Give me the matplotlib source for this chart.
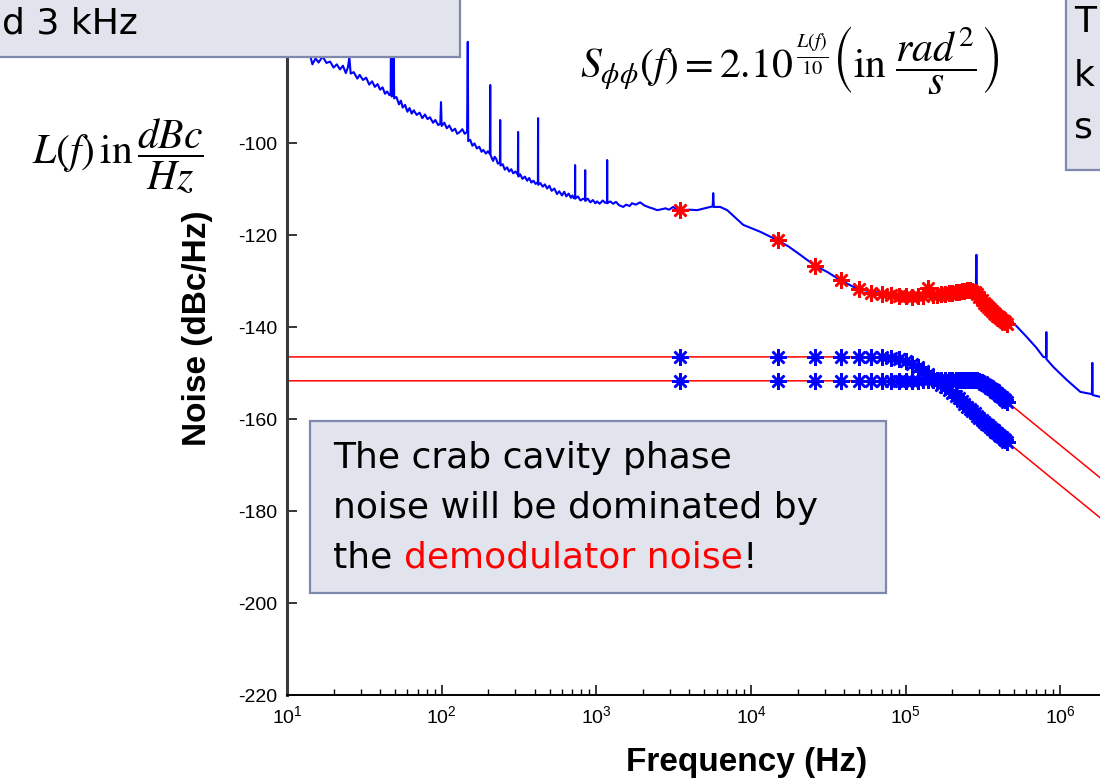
import numpy as np
import matplotlib
matplotlib.use("Agg")
import matplotlib.pyplot as plt
from matplotlib.patches import Rectangle
from matplotlib.ticker import FixedLocator, LogLocator, NullFormatter

plt.rcParams['mathtext.fontset'] = 'stix'
plt.rcParams['axes.unicode_minus'] = False

# ---------------- data ----------------
# measured phase noise (blue trace), including line spikes
meas_f = [12, 14, 14.6, 15.3, 16, 17, 18, 19, 20, 21,
          22, 23, 24, 24.8, 25.3, 25.8, 27, 28.5, 29.5, 31,
          32.5, 34, 35.5, 37, 38.5, 40, 41.5, 43, 44.4, 46,
          46.8, 47.1, 47.5, 48.3, 48.8, 49.3, 51, 53, 54.5, 56,
          58, 60, 62, 64, 66, 69, 72, 75, 78, 81,
          84, 88, 91, 95, 98, 99, 100, 104, 108, 112,
          117, 122, 126, 131, 136, 141, 146, 147.5, 148.5, 153,
          158, 163, 169, 175, 181, 186, 193, 199, 205, 206,
          207, 211, 215, 220, 225, 231, 238, 239, 240, 248,
          256, 265, 273, 282, 290, 300, 311, 312, 313, 322,
          333, 345, 357, 368, 380, 392, 405, 419, 420, 421,
          435, 450, 465, 481, 497, 514, 535, 557, 575, 600,
          620, 640, 662, 685, 700, 715, 728, 729, 730, 760,
          790, 822, 846, 847, 848, 880, 915, 950, 985, 1012,
          1050, 1100, 1140, 1174, 1175, 1176, 1230, 1285, 1340, 1400,
          1491, 1560, 1640, 1700, 1800, 1919, 2050, 2200, 2350, 2472,
          2650, 2800, 2950, 3139, 3300, 3484, 4000, 4488, 5000, 5447,
          5650, 5700, 5750, 6324, 7017, 8910, 11480, 14770, 17500, 20790,
          26000, 31000, 37750, 48630, 60000, 71600, 90000, 118800, 150000, 194400,
          230000, 262000, 284000, 286600, 289000, 320000, 369000, 454000, 497000, 600000,
          700000, 776000, 810000, 812000, 814000, 902000, 1100000, 1347000, 1600000, 1610000,
          1620000, 1820000, 3000000, 8000000]
meas_L = [-79.8, -80.5, -82.9, -81.6, -82.5, -81.2, -82.6, -82.3, -83.6, -82.9,
          -84.0, -83.2, -84.8, -83.5, -81.3, -84.9, -84.6, -86.0, -85.2, -86.3,
          -85.8, -87.3, -86.6, -87.8, -87.2, -88.4, -87.9, -89.3, -88.8, -89.6,
          -89.2, -70.0, -89.9, -89.6, -72.0, -90.3, -90.0, -91.6, -90.8, -92.3,
          -91.7, -93.2, -92.4, -93.6, -92.9, -93.9, -93.4, -94.6, -93.8, -94.8,
          -94.4, -95.6, -95.0, -96.1, -95.8, -91.1, -96.3, -95.6, -96.8, -96.2,
          -97.4, -96.9, -98.0, -97.6, -97.0, -98.0, -97.6, -78.0, -99.6, -99.3,
          -100.6, -100.1, -101.2, -100.8, -101.9, -101.5, -102.3, -101.8, -102.4, -87.4,
          -102.6, -103.3, -103.9, -103.0, -103.4, -104.5, -104.2, -95.0, -104.9, -104.6,
          -105.8, -105.3, -106.2, -105.7, -106.6, -106.2, -106.9, -97.6, -107.3, -106.8,
          -107.8, -107.3, -108.2, -107.6, -108.6, -108.2, -108.9, -108.5, -94.6, -109.1,
          -108.7, -109.5, -109.0, -109.9, -109.3, -110.4, -109.9, -111.1, -110.5, -111.4,
          -110.6, -111.6, -111.0, -111.9, -111.4, -112.0, -111.7, -104.8, -112.1, -111.6,
          -112.5, -112.1, -112.3, -105.9, -112.6, -112.1, -112.9, -112.4, -113.1, -112.7,
          -113.2, -112.5, -113.0, -112.8, -103.7, -113.1, -112.7, -113.2, -112.8, -113.5,
          -113.9, -113.4, -113.7, -113.1, -113.4, -112.9, -113.6, -114.0, -114.3, -114.6,
          -114.4, -114.2, -114.5, -113.9, -114.4, -114.6, -114.5, -114.6, -114.2, -113.9,
          -113.8, -110.9, -113.9, -113.9, -114.6, -117.8, -119.3, -121.1, -122.5, -124.3,
          -126.7, -128.0, -129.8, -131.7, -132.3, -132.6, -132.9, -133.0, -132.9, -132.6,
          -132.3, -132.0, -132.2, -124.3, -132.4, -133.5, -134.8, -138.5, -139.1, -142.0,
          -144.5, -146.5, -146.6, -141.1, -147.0, -148.7, -151.5, -154.1, -154.6, -147.8,
          -154.8, -155.2, -157.0, -158.0]

# frequencies of the marked points (Hz)
star_f = [3500, 15000, 26000, 38000, 50000, 60000, 70000, 80000, 90000, 100000,
          110000, 120000, 130000, 140000, 150000, 160000, 170000, 180000, 190000, 200000,
          210000, 220000, 230000, 240000, 250000, 260000, 270000, 280000, 290000, 300000,
          310000, 320000, 330000, 340000, 350000, 360000, 370000, 380000, 390000, 400000,
          410000, 420000, 430000, 440000, 450000]

# red stars: phase noise at the marked frequencies
cavity_L = [-114.6, -121.1, -126.7, -129.8, -131.7, -132.5, -132.8, -133.0, -133.2, -133.3,
            -133.4, -133.3, -133.2, -131.6, -133.0, -133.0, -132.9, -132.8, -132.7, -132.5,
            -132.4, -132.3, -132.2, -132.1, -132.0, -132.0, -132.1, -132.4, -132.9, -133.5,
            -134.1, -134.7, -135.2, -135.7, -136.1, -136.5, -136.9, -137.2, -137.5, -137.8,
            -138.1, -138.4, -138.7, -139.0, -139.3]

# blue stars: demodulator noise, two cases
demodA_L = [-146.5, -146.5, -146.5, -146.5, -146.5, -146.6, -146.6, -146.7, -147.0, -147.4,
            -148.0, -148.7, -149.5, -150.3, -151.0, -151.8, -152.5, -153.1, -153.7, -154.3,
            -154.9, -155.5, -156.1, -156.7, -157.3, -157.8, -158.3, -158.8, -159.3, -159.8,
            -160.2, -160.6, -161.0, -161.4, -161.7, -162.1, -162.4, -162.8, -163.1, -163.4,
            -163.7, -164.0, -164.3, -164.6, -164.9]
demodB_L = [-151.7, -151.7, -151.7, -151.7, -151.7, -151.7, -151.7, -151.7, -151.7, -151.7,
            -151.7, -151.7, -151.6, -151.6, -151.6, -151.6, -151.6, -151.5, -151.5, -151.5,
            -151.5, -151.5, -151.5, -151.5, -151.5, -151.5, -151.5, -151.5, -151.6, -151.8,
            -152.0, -152.3, -152.6, -152.9, -153.2, -153.5, -153.8, -154.1, -154.4, -154.7,
            -155.0, -155.3, -155.6, -155.9, -156.2]

# red model lines: end points outside the marked range
line_f_lo, line_f_hi = 10, 3000000
lineA_lo, lineA_hi = -146.5, -187.5
lineB_lo, lineB_hi = -151.7, -178.8

yticks = [-220, -200, -180, -160, -140, -120, -100]
xticks = [1e1, 1e2, 1e3, 1e4, 1e5, 1e6]

# ---------------- figure ----------------
W, H = 1100, 780
fig = plt.figure(figsize=(W / 100, H / 100), dpi=100)


def fx(px):
    return px / W


def fy(py):
    return 1 - py / H


# axes geometry (the axes run past the top and right edges, as in the reference crop)
ax_l, ax_r, ax_b, ax_t = 287, 1215, 695, -41
ax = fig.add_axes([fx(ax_l), fy(ax_b), (ax_r - ax_l) / W, (ax_b - ax_t) / H])
ax.set_xscale('log')
ax.set_xlim(10, 1e7)
ax.set_ylim(-220, -60)

# red model lines
ax.plot(np.concatenate([[line_f_lo], star_f, [line_f_hi]]),
        np.concatenate([[lineA_lo], demodA_L, [lineA_hi]]),
        color='#ff0000', lw=1.1, zorder=2)
ax.plot(np.concatenate([[line_f_lo], star_f, [line_f_hi]]),
        np.concatenate([[lineB_lo], demodB_L, [lineB_hi]]),
        color='#ff0000', lw=1.1, zorder=2)

# measured trace
ax.plot(meas_f, meas_L, color='#0000ff', lw=1.5, zorder=3)

star = (8, 2, 0)
ax.plot(star_f, cavity_L, ls='none', marker=star, ms=12, mew=1.8,
        color='#ff0000', mec='#ff0000', zorder=4)
ax.plot(star_f, demodA_L, ls='none', marker=star, ms=12, mew=1.8,
        color='#0000ff', mec='#0000ff', zorder=4)
ax.plot(star_f, demodB_L, ls='none', marker=star, ms=12, mew=1.8,
        color='#0000ff', mec='#0000ff', zorder=4)

# ticks / spines
ax.yaxis.set_major_locator(FixedLocator(yticks))
ax.xaxis.set_major_locator(FixedLocator(xticks))
ax.xaxis.set_minor_locator(LogLocator(base=10, subs=np.arange(2, 10), numticks=12))
ax.xaxis.set_minor_formatter(NullFormatter())
ax.tick_params(which='major', direction='in', length=7, width=1.1, colors='black',
               labelsize=14, pad=7)
ax.tick_params(which='minor', direction='in', length=4, width=1.0)
ax.tick_params(axis='y', which='minor', left=False)
for lab in ax.get_xticklabels() + ax.get_yticklabels():
    lab.set_fontfamily('Liberation Sans')
for s in ['top', 'right']:
    ax.spines[s].set_visible(False)
ax.spines['left'].set_color('#3a3a3a')
ax.spines['left'].set_linewidth(2.2)
ax.spines['bottom'].set_color('black')
ax.spines['bottom'].set_linewidth(1.4)

ax.set_xlabel('Frequency (Hz)', fontsize=24, fontweight='bold', family='Liberation Sans')
ax.set_ylabel('Noise (dBc/Hz)', fontsize=24, fontweight='bold', family='Liberation Sans')
ax.xaxis.set_label_coords((747 - ax_l) / (ax_r - ax_l), (ax_b - 747) / (ax_b - ax_t))
ax.yaxis.set_label_coords((213 - ax_l) / (ax_r - ax_l), (ax_b - 328) / (ax_b - ax_t))

# ---------------- annotation boxes ----------------
box_face = '#e1e4ec'
box_edge = '#7f88ad'


def fig_box(x0, y0, x1, y1):
    r = Rectangle((fx(x0), fy(y1)), fx(x1) - fx(x0), fy(y0) - fy(y1),
                  transform=fig.transFigure, facecolor=box_face, edgecolor=box_edge,
                  lw=1.6, zorder=5)
    fig.add_artist(r)


txt_font = 'DejaVu Sans'
txt_size = 26

# top-left box (cut by the figure edge)
fig_box(-20, -20, 460, 57)
fig.text(fx(2), fy(24), 'd 3 kHz', fontsize=txt_size, family=txt_font, color='black',
         ha='left', va='center', zorder=6)

# top-right box (cut by the figure edge)
fig_box(1066, -20, 1140, 170)
fig.text(fx(1074), fy(22), 'T', fontsize=txt_size, family=txt_font, ha='left', va='center', zorder=6)
fig.text(fx(1074), fy(76), 'k', fontsize=txt_size, family=txt_font, ha='left', va='center', zorder=6)
fig.text(fx(1074), fy(128), 's', fontsize=txt_size, family=txt_font, ha='left', va='center', zorder=6)

# bottom box
fig_box(310, 421, 886, 593)
fig.text(fx(333), fy(458), 'The crab cavity phase', fontsize=txt_size, family=txt_font,
         ha='left', va='center', zorder=6)
fig.text(fx(333), fy(508), 'noise will be dominated by', fontsize=txt_size, family=txt_font,
         ha='left', va='center', zorder=6)
t1 = fig.text(fx(333), fy(558), 'the ', fontsize=txt_size, family=txt_font,
              ha='left', va='center', zorder=6)
fig.canvas.draw()
rend = fig.canvas.get_renderer()
bb = t1.get_window_extent(rend)
t2 = fig.text(bb.x1 / W, fy(558), 'demodulator noise', fontsize=txt_size, family=txt_font,
              color='#ff0000', ha='left', va='center', zorder=6)
bb2 = t2.get_window_extent(rend)
fig.text(bb2.x1 / W, fy(558), '!', fontsize=txt_size, family=txt_font,
         ha='left', va='center', zorder=6)

# formulas
fig.text(fx(790), fy(60),
         r'$S_{\phi\phi}(f) = 2.10^{\,\frac{L(f)}{10}}\left(\mathrm{in}\ \dfrac{rad^{2}}{s}\right)$',
         fontsize=30, ha='center', va='center', zorder=6)
fig.text(fx(118), fy(156), r'$L(f)\,\mathrm{in}\,\dfrac{dBc}{Hz}$',
         fontsize=30, ha='center', va='center', zorder=6)

fig.savefig('out.png', dpi=100)
